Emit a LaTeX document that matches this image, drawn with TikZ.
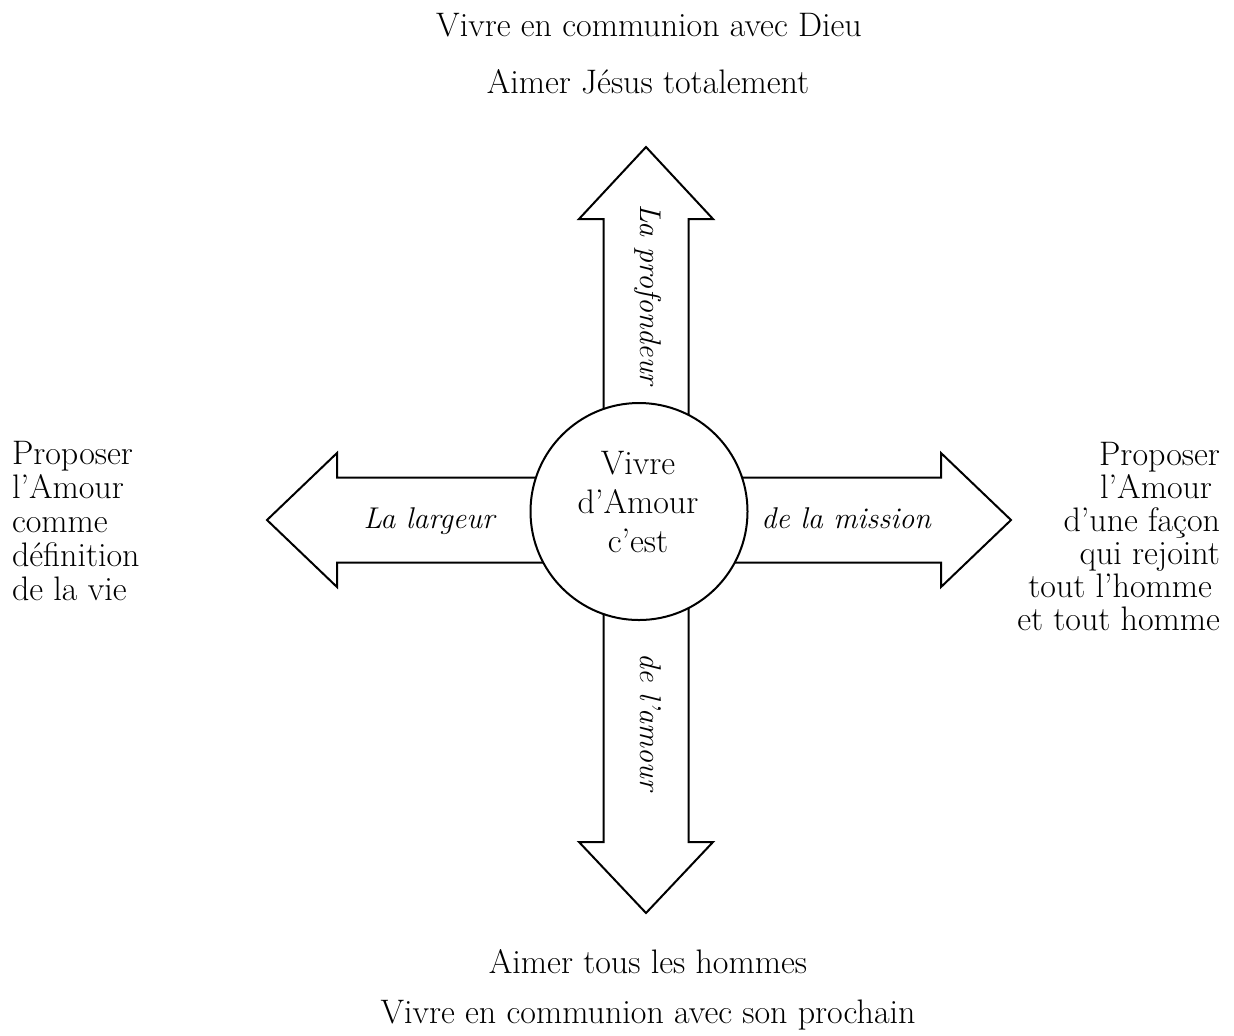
\documentclass[tikz,border=0pt]{standalone}
\usepackage{fontspec}

\begin{document}
\begin{tikzpicture}[x=0.5pt,y=-0.5pt,line width=1pt]
    \tikzstyle{fleche}=[draw=black,fill=white,line join=miter]
    \tikzstyle{sens}=[font=\fontsize{15}{18}\selectfont\itshape,inner sep=0pt,anchor=base]
    \tikzstyle{phrase}=[font=\fontsize{17}{20}\selectfont,inner sep=0pt,anchor=base]
    \fill[white] (0,0) rectangle (1234,1035);
    \useasboundingbox (0,0) rectangle (1234,1035);
    % les quatre fleches
    \draw[fleche] (603.5,520) -- (603.5,219) -- (579,219) -- (646,147) -- (713,219) -- (688.5,219) -- (688.5,520) -- cycle;
    \draw[fleche] (603.5,520) -- (603.5,842) -- (579,842) -- (646,913) -- (713,842) -- (688.5,842) -- (688.5,520) -- cycle;
    \draw[fleche] (646,477.5) -- (337,477.5) -- (337,453) -- (267,520) -- (337,587) -- (337,562.5) -- (646,562.5) -- cycle;
    \draw[fleche] (646,477.5) -- (941,477.5) -- (941,453) -- (1011,520) -- (941,587) -- (941,562.5) -- (646,562.5) -- cycle;
    \node[circle,draw,fill=white,minimum size=108.5pt,inner sep=0pt] (centre) at (639,511.5) {};
    \node[phrase,align=center,font=\fontsize{17}{19.5}\selectfont] (vivre) at (638,552) {Vivre\\d'Amour\\c'est};
    % dimensions
    \node[sens,rotate=-90] (profondeur) at (640,295) {La profondeur};
    \node[sens,rotate=-90] (amour) at (640,722) {de l'amour};
    \node[sens] (largeur) at (429,528) {La largeur};
    \node[sens] (mission) at (846,528) {de la mission};
    % textes autour
    \node[phrase] (dieu) at (649,36) {Vivre en communion avec Dieu};
    \node[phrase] (jesus) at (648,93) {Aimer Jésus totalement};
    \node[phrase] (hommes) at (648,973) {Aimer tous les hommes};
    \node[phrase] (prochain) at (648,1023) {Vivre en communion avec son prochain};
    \node[phrase,anchor=base west,align=left,font=\fontsize{17}{17}\selectfont] (gauche) at (11,600) {Proposer\\l'Amour\\comme\\définition\\de la vie};
    \node[phrase,anchor=base east,align=right,font=\fontsize{17}{16.5}\selectfont] (droite) at (1221,630) {Proposer\\l'Amour\kern4pt\\d'une façon\\qui rejoint\\tout l'homme\kern4pt\\et tout homme};
\end{tikzpicture}
\end{document}
